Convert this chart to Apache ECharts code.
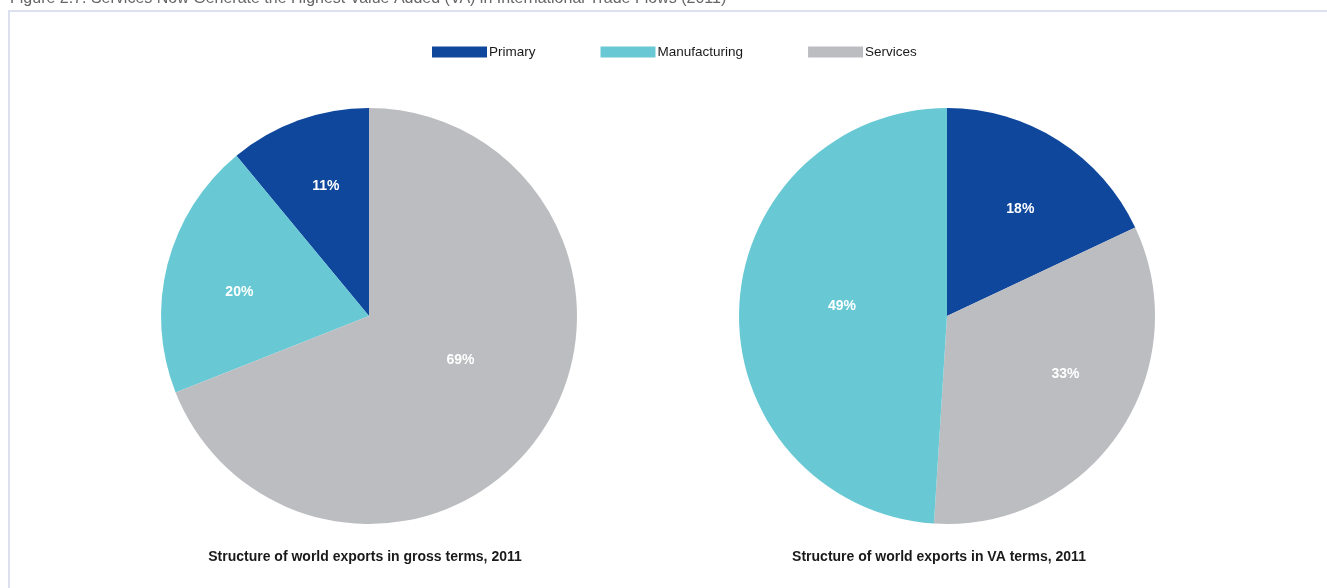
<!DOCTYPE html>
<html>
<head>
<meta charset="utf-8">
<script src="https://cdn.jsdelivr.net/npm/echarts@6/dist/echarts.min.js"></script>
<style>
html,body{margin:0;padding:0;background:#fff;}
#chart{width:1327px;height:588px;}
</style>
</head>
<body>
<div id="chart"></div>
<script>
// ---- data ----
var categories = ['Primary', 'Manufacturing', 'Services'];
var grossShares = [11, 20, 69];   // % of world exports, gross terms, 2011
var vaShares = [18, 49, 33];      // % of world exports, VA terms, 2011
var chartTitle = 'Figure 2.7: Services Now Generate the Highest Value Added (VA) in International Trade Flows (2011)';
var pieTitles = ['Structure of world exports in gross terms, 2011', 'Structure of world exports in VA terms, 2011'];

// ---- styles ----
var colors = { 'Primary': '#0e479c', 'Manufacturing': '#68c9d5', 'Services': '#bcbdc1' };
var FONT = '"Liberation Sans", Arial, sans-serif';

function items(values, order) {
  return order.map(function (name) {
    return { name: name, value: values[categories.indexOf(name)], itemStyle: { color: colors[name] } };
  });
}

// label nudges (Excel-style placement), indexed by data order
var grossNudge = [[-7, -29], [-26, 3], [3, -16]];
var vaNudge = [[16, -17], [30, -2], [2, -6]];

var labelStyle = {
  show: true, position: 'inside', formatter: '{c}%',
  color: '#fff', fontWeight: 'bold', fontSize: 14, fontFamily: FONT
};

var chart = echarts.init(document.getElementById('chart'), null, { renderer: 'canvas' });
chart.setOption({
  animation: false,
  backgroundColor: '#fff',
  title: [
    { text: chartTitle, left: 5, top: -14, textStyle: { fontSize: 16, fontWeight: 'normal', color: '#666', fontFamily: FONT } },
    { text: pieTitles[0], left: 360, top: 545, textAlign: 'center', textStyle: { fontSize: 14, fontWeight: 'bold', color: '#1a1a1a', fontFamily: FONT } },
    { text: pieTitles[1], left: 934, top: 545, textAlign: 'center', textStyle: { fontSize: 14, fontWeight: 'bold', color: '#1a1a1a', fontFamily: FONT } }
  ],
  graphic: [
    { type: 'rect', silent: true, shape: { x: 9, y: 11, width: 1340, height: 620 }, style: { fill: 'none', stroke: '#dde1ef', lineWidth: 2 } }
  ],
  legend: {
    data: categories,
    left: 427, top: 40,
    icon: 'rect', itemWidth: 55, itemHeight: 11, itemGap: 65,
    textStyle: { fontSize: 13.5, color: '#1a1a1a', fontFamily: FONT, padding: [0, 0, 0, -3] },
    selectedMode: false
  },
  series: [
    {
      type: 'pie', center: [369, 316], radius: 208, startAngle: 90, clockwise: false,
      data: items(grossShares, ['Primary', 'Manufacturing', 'Services']),
      label: labelStyle, labelLine: { show: false },
      emphasis: { disabled: true },
      labelLayout: function (p) { var n = grossNudge[p.dataIndex]; return { dx: n[0], dy: n[1] }; }
    },
    {
      type: 'pie', center: [947, 316], radius: 208, startAngle: 90, clockwise: true,
      data: items(vaShares, ['Primary', 'Services', 'Manufacturing']),
      label: labelStyle, labelLine: { show: false },
      emphasis: { disabled: true },
      labelLayout: function (p) { var n = vaNudge[p.dataIndex]; return { dx: n[0], dy: n[1] }; }
    }
  ]
});
</script>
</body>
</html>
